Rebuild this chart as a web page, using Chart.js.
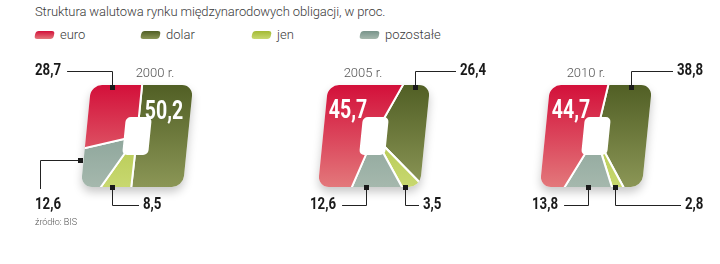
<!DOCTYPE html>
<html lang="pl">
<head>
<meta charset="utf-8">
<title>Struktura walutowa rynku obligacji</title>
<script src="https://cdn.jsdelivr.net/npm/chart.js@4.4.1/dist/chart.umd.min.js"></script>
<style>
  body { margin: 0; width: 720px; height: 264px; background: #fff; position: relative; overflow: hidden; font-family: Roboto, "Open Sans", sans-serif; }
  canvas { position: absolute; left: 0; top: 0; }
  #tytul { position: absolute; left: 35px; top: 4px; font-size: 13px; font-weight: 300; color: #3a3a3a; white-space: nowrap; letter-spacing: -0.1px; }
  .poz { position: absolute; top: 27px; font-size: 13px; font-weight: 300; color: #3a3a3a; white-space: nowrap; }
  .kolor { display: inline-block; width: 19px; height: 8px; border-radius: 3px; transform: skewX(-12deg); margin-right: 6px; vertical-align: 0px; }
  #zrodlo { position: absolute; left: 35px; top: 217px; font-size: 9px; font-weight: 300; color: #555; }
</style>
</head>
<body>
<div id="tytul"></div>
<div id="legenda"></div>
<canvas id="w0" width="720" height="264"></canvas>
<canvas id="w1" width="720" height="264"></canvas>
<canvas id="w2" width="720" height="264"></canvas>
<div id="zrodlo"></div>
<script>
// dane
const tytul = "Struktura walutowa rynku międzynarodowych obligacji, w proc.";
const kategorie = ["euro", "dolar", "jen", "pozostałe"];
const klucze = ["euro", "dolar", "jen", "pozostale"];
const lata = ["2000 r.", "2005 r.", "2010 r."];
const euro = [28.7, 45.7, 44.7];
const dolar = [50.2, 26.4, 38.8];
const jen = [8.5, 3.5, 2.8];
const pozostale = [12.6, 12.6, 13.8];
const zrodlo = "źródło: BIS";

const serie = { euro, dolar, jen, pozostale };
// kolejnosc wycinkow zgodnie z ruchem wskazowek zegara od gory
const kolejnosc = ["dolar", "jen", "pozostale", "euro"];

const kolory = {
  euro: ["#d3103a", "#e3787b"],
  dolar: ["#515f25", "#8b9656"],
  jen: ["#a4ba34", "#c8d870"],
  pozostale: ["#78948a", "#a5b8ad"]
};

const CY = 136;     // srodek w pionie
const POL = 51;     // polowa boku kwadratu
const ROG = 11;     // zaokraglenie
const SKOS = 0.1;   // pochylenie
const R = 95;
const WASKO = 0.78; // zwezenie pogrubionych liczb

// rozmieszczenie opisow (x, y na stronie)
const wykresy = [
  { cx: 137, obrot: 0, rok: [155, 74], srodek: { seria: "dolar", x: 164, y: 113 },
    opisy: [
      { seria: "euro", znacznik: [112, 87], tekst: [35, 71], lamanie: "pion" },
      { seria: "pozostale", znacznik: [80, 160], tekst: [35, 205], lamanie: "poziom" },
      { seria: "jen", znacznik: [112, 187], tekst: [143, 205], lamanie: "pion" }
    ] },
  { cx: 374, obrot: 25, rok: [363, 74], srodek: { seria: "euro", x: 348, y: 112 },
    opisy: [
      { seria: "dolar", znacznik: [415, 87], tekst: [460, 71], lamanie: "pion" },
      { seria: "pozostale", znacznik: [366, 187], tekst: [310, 205], lamanie: "pion" },
      { seria: "jen", znacznik: [405, 187], tekst: [423, 205], lamanie: "pion" }
    ] },
  { cx: 596, obrot: 8, rok: [586, 74], srodek: { seria: "euro", x: 571, y: 112 },
    opisy: [
      { seria: "dolar", znacznik: [631, 87], tekst: [677, 71], lamanie: "pion" },
      { seria: "pozostale", znacznik: [588, 187], tekst: [532, 205], lamanie: "pion" },
      { seria: "jen", znacznik: [615, 187], tekst: [685, 205], lamanie: "pion" }
    ] }
];

function liczba(v) {
  return v.toFixed(1).replace(".", ",");
}

function kwadrat(ctx, x, y, w, h, r) {
  ctx.beginPath();
  ctx.moveTo(x + r, y);
  ctx.arcTo(x + w, y, x + w, y + h, r);
  ctx.arcTo(x + w, y + h, x, y + h, r);
  ctx.arcTo(x, y + h, x, y, r);
  ctx.arcTo(x, y, x + w, y, r);
  ctx.closePath();
}

// tekst zwezony w poziomie
function waskiTekst(ctx, t, x, y) {
  ctx.save();
  ctx.translate(x, y);
  ctx.scale(WASKO, 1);
  ctx.fillText(t, 0, 0);
  ctx.restore();
}

// tytul, legenda, zrodlo
document.getElementById("tytul").textContent = tytul;
document.getElementById("zrodlo").textContent = zrodlo;
const legX = [35, 141, 252, 360];
const legenda = document.getElementById("legenda");
kategorie.forEach((k, i) => {
  const s = document.createElement("span");
  s.className = "poz";
  s.style.left = legX[i] + "px";
  const c = kolory[klucze[i]];
  s.innerHTML = '<span class="kolor" style="background:linear-gradient(' + c[0] + ',' + c[1] + ')"></span>';
  s.appendChild(document.createTextNode(k));
  legenda.appendChild(s);
});

function ksztalt(w, i) {
  return {
    id: "ksztalt" + i,
    beforeDatasetsDraw(chart) {
      const ctx = chart.ctx;
      const arc = chart.getDatasetMeta(0).data[0];
      const cx = arc.x, cy = arc.y;
      ctx.save();
      ctx.translate(cx, cy);
      ctx.transform(1, 0, -SKOS, 1, 0, 0);
      ctx.translate(-cx, -cy);
      ctx.save();
      ctx.shadowColor = "rgba(0,0,0,0.22)";
      ctx.shadowBlur = 10;
      ctx.shadowOffsetY = 5;
      kwadrat(ctx, cx - POL, cy - POL, 2 * POL, 2 * POL, ROG);
      ctx.fillStyle = "#fff";
      ctx.fill();
      ctx.restore();
      kwadrat(ctx, cx - POL, cy - POL, 2 * POL, 2 * POL, ROG);
      ctx.clip();
    },
    afterDatasetsDraw(chart) {
      const ctx = chart.ctx;
      const arc = chart.getDatasetMeta(0).data[0];
      const cx = arc.x, cy = arc.y;
      // otwor
      kwadrat(ctx, cx - 13, cy - 19, 26, 38, 5);
      ctx.fillStyle = "#fff";
      ctx.fill();
      ctx.restore();

      // rok
      ctx.save();
      ctx.font = "300 13px Roboto, sans-serif";
      ctx.fillStyle = "#555";
      ctx.textAlign = "center";
      ctx.textBaseline = "middle";
      ctx.fillText(lata[i], w.rok[0], w.rok[1]);

      // wartosc wewnatrz
      ctx.font = "bold 25px Roboto, sans-serif";
      ctx.fillStyle = "#fff";
      waskiTekst(ctx, liczba(serie[w.srodek.seria][i]), w.srodek.x, w.srodek.y);

      // opisy z liniami
      ctx.font = "bold 17px Roboto, sans-serif";
      ctx.textAlign = "left";
      ctx.fillStyle = "#1a1a1a";
      ctx.strokeStyle = "#222";
      ctx.lineWidth = 1;
      w.opisy.forEach(o => {
        const t = liczba(serie[o.seria][i]);
        const [mx, my] = o.znacznik;
        const [tx, ty] = o.tekst;
        const szer = ctx.measureText(t).width * WASKO;
        waskiTekst(ctx, t, tx, ty);
        ctx.beginPath();
        if (o.lamanie === "pion") {
          const kx = tx < mx ? tx + szer + 6 : tx - 4;
          ctx.moveTo(mx + 0.5, my);
          ctx.lineTo(mx + 0.5, ty + 0.5);
          ctx.lineTo(kx, ty + 0.5);
        } else {
          ctx.moveTo(mx, my + 0.5);
          ctx.lineTo(tx + 5.5, my + 0.5);
          ctx.lineTo(tx + 5.5, ty - 16);
        }
        ctx.stroke();
        ctx.fillRect(mx - 2, my - 2, 5, 5);
      });
      ctx.restore();
    }
  };
}

wykresy.forEach((w, i) => {
  new Chart(document.getElementById("w" + i), {
    type: "pie",
    data: {
      labels: kolejnosc,
      datasets: [{
        data: kolejnosc.map(k => serie[k][i]),
        backgroundColor: function (c) {
          const k = kolejnosc[c.dataIndex];
          const g = c.chart.ctx.createLinearGradient(0, CY - POL, 0, CY + POL);
          g.addColorStop(0, kolory[k][0]);
          g.addColorStop(1, kolory[k][1]);
          return g;
        },
        borderColor: "#fff",
        borderWidth: 2
      }]
    },
    options: {
      responsive: false,
      animation: false,
      events: [],
      rotation: w.obrot,
      layout: { padding: { left: w.cx - R, right: 720 - w.cx - R, top: CY - R, bottom: 264 - CY - R } },
      plugins: { legend: { display: false }, tooltip: { enabled: false } }
    },
    plugins: [ksztalt(w, i)]
  });
});
</script>
</body>
</html>
